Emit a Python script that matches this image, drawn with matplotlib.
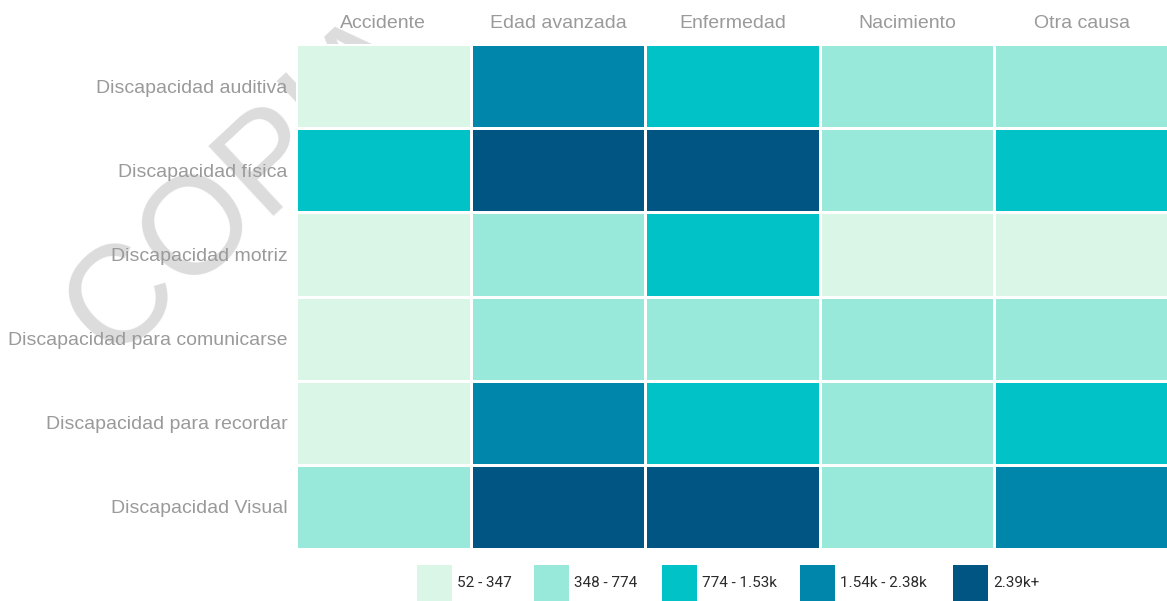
import numpy as np
import matplotlib
matplotlib.use("Agg")
import matplotlib.pyplot as plt
from matplotlib.colors import ListedColormap, BoundaryNorm
from matplotlib.patches import Rectangle

causes = ["Accidente", "Edad avanzada", "Enfermedad", "Nacimiento", "Otra causa"]
disabilities = ["Discapacidad auditiva", "Discapacidad física", "Discapacidad motriz",
                "Discapacidad para comunicarse", "Discapacidad para recordar",
                "Discapacidad Visual"]
# rows = disabilities, cols = causes (estimated from colour bins)
auditiva     = [210, 1980, 1150, 520, 460]
fisica       = [1320, 3200, 3050, 610, 980]
motriz       = [120, 560, 870, 52, 180]
comunicarse  = [150, 420, 470, 510, 400]
recordar     = [160, 1750, 1100, 600, 900]
visual       = [640, 3400, 2900, 550, 1850]

bin_edges = [52, 348, 774, 1540, 2390, 4000]
bin_labels = ["52 - 347", "348 - 774", "774 - 1.53k", "1.54k - 2.38k", "2.39k+"]
bin_colors = ["#daf6e6", "#98e9da", "#00c2c7", "#0086ab", "#005583"]

values = np.array([auditiva, fisica, motriz, comunicarse, recordar, visual])

W, H = 1167, 601
fig = plt.figure(figsize=(W / 100, H / 100), dpi=100)
fig.patch.set_facecolor("white")

# watermark
fig.text(111 / W, 1 - 360 / H, "COPIA", fontsize=100, color="#dcdcdc",
         family="Liberation Sans", rotation=43, ha="left", va="baseline",
         rotation_mode="anchor", zorder=-5)

ax = fig.add_axes([296 / W, 1 - 549 / H, (1169 - 296) / W, (549 - 44) / H])
ax.patch.set_alpha(0)
cmap = ListedColormap(bin_colors)
norm = BoundaryNorm(bin_edges, cmap.N)
ax.pcolormesh(np.arange(len(causes) + 1), np.arange(len(disabilities) + 1), values,
              cmap=cmap, norm=norm, edgecolor="white", linewidth=2.0)
ax.set_xlim(0, len(causes))
ax.set_ylim(len(disabilities), 0)
ax.set_xticks(np.arange(len(causes)) + 0.5)
ax.set_xticklabels(causes)
ax.set_yticks(np.arange(len(disabilities)) + 0.5)
ax.set_yticklabels(disabilities)
ax.xaxis.tick_top()
ax.tick_params(axis="y", length=0, labelsize=14, pad=6)
ax.tick_params(axis="x", length=0, labelsize=14, pad=9)
for lab in ax.get_xticklabels() + ax.get_yticklabels():
    lab.set_family("Liberation Sans")
    lab.set_color("#9a9a9a")
for s in ax.spines.values():
    s.set_visible(False)

# legend
sq_x = [417, 534, 662, 800, 953]
for x0, c, lab in zip(sq_x, bin_colors, bin_labels):
    fig.patches.append(Rectangle((x0 / W, 1 - 601 / H), 35 / W, 36 / H,
                                 transform=fig.transFigure, facecolor=c,
                                 edgecolor="none"))
    fig.text((x0 + 40) / W, 1 - 583 / H, lab, fontsize=11,
             family=["Roboto", "DejaVu Sans"], color="#2b2b2b",
             ha="left", va="center")

fig.savefig("out.png", dpi=100, facecolor="white")
